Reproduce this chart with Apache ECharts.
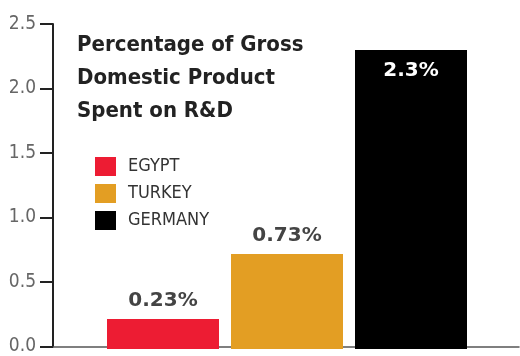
<!DOCTYPE html>
<html>
<head>
<meta charset="utf-8">
<script src="https://cdn.jsdelivr.net/npm/echarts@6/dist/echarts.min.js"></script>
<style>html,body{margin:0;padding:0;background:#fff}#c{width:520px;height:356px}</style>
</head>
<body>
<div id="c"></div>
<script>
const categories = ['EGYPT', 'TURKEY', 'GERMANY'];
const values = [0.23, 0.73, 2.3];
const valueLabels = ['0.23%', '0.73%', '2.3%'];
const barColors = ['#ED1C33', '#E39E23', '#000000'];
const yTickLabels = ['0.0', '0.5', '1.0', '1.5', '2.0', '2.5'];
const titleLines = ['Percentage of Gross', 'Domestic Product', 'Spent on R&D'];

const condensed = '"DejaVu Sans Condensed", "DejaVu Sans", sans-serif';

const chart = echarts.init(document.getElementById('c'), null, {renderer: 'canvas'});

const series = categories.map((name, i) => ({
  name: name,
  type: 'bar',
  xAxisIndex: 1,
  yAxisIndex: 1,
  barWidth: 112,
  barGap: '-100%',
  itemStyle: {color: barColors[i]},
  data: categories.map((c, j) => j === i ? values[i] : '-'),
  label: {
    show: true,
    position: i === 2 ? 'insideTop' : 'top',
    distance: i === 2 ? 11 : 8,
    formatter: () => valueLabels[i],
    color: i === 2 ? '#ffffff' : '#444444',
    fontFamily: '"DejaVu Sans", sans-serif',
    fontWeight: 'bold',
    fontSize: 20
  },
  emphasis: {disabled: true},
  animation: false
}));

chart.setOption({
  animation: false,
  title: {
    text: titleLines.join('\n'),
    left: 77,
    top: 29,
    padding: 0,
    textStyle: {
      fontFamily: condensed,
      fontWeight: 'bold',
      fontSize: 22,
      lineHeight: 33,
      color: '#222222'
    }
  },
  legend: {
    orient: 'vertical',
    left: 95,
    top: 157,
    padding: 0,
    itemWidth: 21,
    itemHeight: 19,
    itemGap: 8,
    icon: 'rect',
    data: categories,
    selectedMode: false,
    textStyle: {
      fontFamily: condensed,
      fontSize: 18,
      color: '#333333',
      padding: [0, 0, 0, 7]
    }
  },
  grid: [
    {left: 53, right: 1, top: 24, bottom: 7},
    {left: 101, width: 372, top: 24, bottom: 7}
  ],
  xAxis: [
    {
      gridIndex: 0, type: 'value', min: 0, max: 1,
      axisLine: {show: true, lineStyle: {color: '#555555', width: 1.5}},
      axisTick: {show: false}, axisLabel: {show: false}, splitLine: {show: false}
    },
    {
      gridIndex: 1, type: 'category', data: categories,
      axisLine: {show: false}, axisTick: {show: false}, axisLabel: {show: false}
    }
  ],
  yAxis: [
    {
      gridIndex: 0, type: 'value', min: 0, max: 2.5, interval: 0.5,
      axisLine: {show: true, lineStyle: {color: '#222222', width: 2}},
      axisTick: {show: true, length: 13, lineStyle: {color: '#222222', width: 2}},
      splitLine: {show: false},
      axisLabel: {
        margin: 17,
        formatter: (v) => yTickLabels[Math.round(v / 0.5)],
        fontFamily: condensed,
        fontSize: 19,
        color: '#666666'
      }
    },
    {
      gridIndex: 1, type: 'value', min: 0, max: 2.5,
      show: false, splitLine: {show: false}
    }
  ],
  series: series
});
</script>
</body>
</html>
